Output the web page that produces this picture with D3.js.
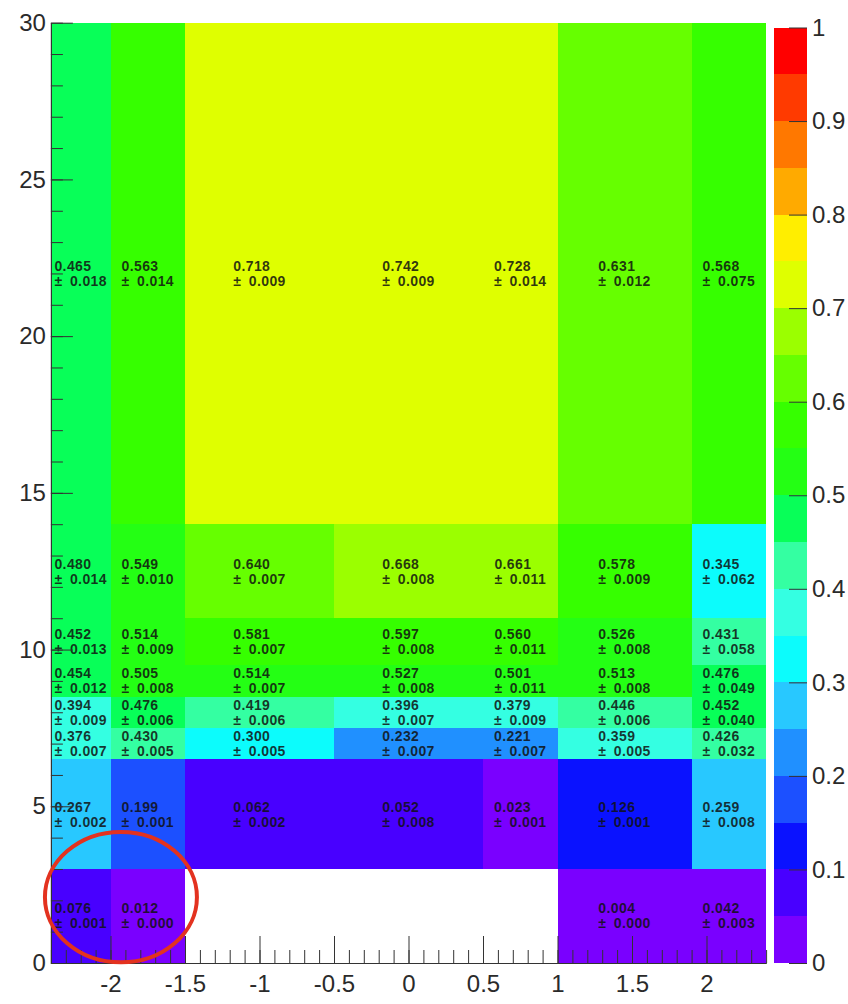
<!DOCTYPE html>
<html>
<head>
<meta charset="utf-8">
<script src="https://cdn.jsdelivr.net/npm/d3@7"></script>
<style>
  html, body { margin: 0; padding: 0; background: #fff; }
  svg { display: block; font-family: "Liberation Sans", Arial, Helvetica, sans-serif; }
</style>
</head>
<body>
<svg id="chart" width="848" height="1004"></svg>
<script>
// Bin edges of the 2D histogram (x: eta-like, y: pT-like)
const xEdges = [-2.4, -2.0, -1.5, -0.5, 0.5, 1.0, 1.9, 2.4];
const yEdges = [0, 3, 6.5, 7.5, 8.5, 9.5, 11, 14, 30];

// Cell contents, one array per y-bin (bottom to top), one entry per x-bin; null = empty bin
const values = [
  [0.076, 0.012, null, null, null, 0.004, 0.042],
  [0.267, 0.199, 0.062, 0.052, 0.023, 0.126, 0.259],
  [0.376, 0.430, 0.300, 0.232, 0.221, 0.359, 0.426],
  [0.394, 0.476, 0.419, 0.396, 0.379, 0.446, 0.452],
  [0.454, 0.505, 0.514, 0.527, 0.501, 0.513, 0.476],
  [0.452, 0.514, 0.581, 0.597, 0.560, 0.526, 0.431],
  [0.480, 0.549, 0.640, 0.668, 0.661, 0.578, 0.345],
  [0.465, 0.563, 0.718, 0.742, 0.728, 0.631, 0.568]
];
const errors = [
  [0.001, 0.000, null, null, null, 0.000, 0.003],
  [0.002, 0.001, 0.002, 0.008, 0.001, 0.001, 0.008],
  [0.007, 0.005, 0.005, 0.007, 0.007, 0.005, 0.032],
  [0.009, 0.006, 0.006, 0.007, 0.009, 0.006, 0.040],
  [0.012, 0.008, 0.007, 0.008, 0.011, 0.008, 0.049],
  [0.013, 0.009, 0.007, 0.008, 0.011, 0.008, 0.058],
  [0.014, 0.010, 0.007, 0.008, 0.011, 0.009, 0.062],
  [0.018, 0.014, 0.009, 0.009, 0.014, 0.012, 0.075]
];

// Axis ticks
const xMajorTicks = [-2, -1.5, -1, -0.5, 0, 0.5, 1, 1.5, 2];
const xMinorTicks = d3.range(-24, 25).map(i => i / 10);
const yMajorTicks = [0, 5, 10, 15, 20, 25, 30];
const yMinorTicks = d3.range(0, 31);
const zTicks = [0, 0.1, 0.2, 0.3, 0.4, 0.5, 0.6, 0.7, 0.8, 0.9, 1];

// 20-step rainbow palette, violet (0) to red (1)
const palette = [
  "#7a00ff", "#4800ff", "#0a12ff", "#1c50ff", "#2090ff",
  "#28c8ff", "#0cfcfc", "#34ffe2", "#34ffa2", "#08ff58",
  "#24ff14", "#36ff00", "#66ff00", "#9bff00", "#dfff00",
  "#ffee00", "#ffaa00", "#ff7800", "#ff3a00", "#ff0000"
];

// Highlight ellipse (data units)
const highlight = { cx: -1.93, cy: 2.1, rx: 0.51, ry: 2.08 };

const svg = d3.select("#chart");
const x = d3.scaleLinear().domain([-2.4, 2.4]).range([50.9, 766.1]);
const y = d3.scaleLinear().domain([0, 30]).range([963, 22.7]);
const color = d3.scaleQuantize().domain([0, 1]).range(palette);
const zy = d3.scaleLinear().domain([0, 1]).range([963, 27.5]);

// Flatten bins
const cells = [];
values.forEach((row, j) => row.forEach((v, i) => {
  if (v === null) return;
  cells.push({ x0: xEdges[i], x1: xEdges[i + 1], y0: yEdges[j], y1: yEdges[j + 1], v, e: errors[j][i] });
}));

// Coloured bins
svg.append("g").selectAll("rect").data(cells).join("rect")
  .attr("x", d => x(d.x0))
  .attr("y", d => y(d.y1))
  .attr("width", d => x(d.x1) - x(d.x0))
  .attr("height", d => y(d.y0) - y(d.y1))
  .attr("fill", d => color(d.v))
  .attr("shape-rendering", "crispEdges");

// Bin contents: value and error, left-aligned block centred in the bin
const fmt = d3.format(".3f");
const labels = svg.append("g")
  .attr("font-size", 14)
  .attr("font-weight", "bold")
  .attr("letter-spacing", 0.4)
  .attr("fill", "#111")
  .attr("fill-opacity", 0.85)
  .selectAll("text").data(cells).join("text");
labels.each(function (d) {
  const t = d3.select(this);
  const cx = (x(d.x0) + x(d.x1)) / 2;
  const cy = (y(d.y0) + y(d.y1)) / 2;
  const l1 = t.append("tspan").attr("y", cy - 7.5).attr("dy", "0.35em").text(fmt(d.v));
  const l2 = t.append("tspan").attr("y", cy + 7.5).attr("dy", "0.35em").text("\u00b1\u2002" + fmt(d.e));
  const w = Math.max(l1.node().getComputedTextLength(), l2.node().getComputedTextLength());
  l1.attr("x", cx - w / 2);
  l2.attr("x", cx - w / 2);
});

// Axes
const axisColor = "#333";
function styleAxis(g) {
  g.selectAll("line").attr("stroke", axisColor);
  g.selectAll("path").attr("stroke", axisColor);
  g.selectAll("text").attr("fill", "#2a2a2a").attr("font-size", 24)
    .attr("font-family", "'Liberation Sans', Arial, Helvetica, sans-serif");
}

svg.append("g").attr("transform", `translate(0,${y(0)})`)
  .call(d3.axisBottom(x).tickValues(xMinorTicks).tickSize(-13).tickSizeOuter(0).tickFormat(""))
  .call(styleAxis);
svg.append("g").attr("transform", `translate(0,${y(0)})`)
  .call(d3.axisBottom(x).tickValues(xMajorTicks).tickSize(-27).tickSizeOuter(0)
    .tickPadding(12).tickFormat(d => String(d)))
  .call(styleAxis);

svg.append("g").attr("transform", `translate(${x(-2.4)},0)`)
  .call(d3.axisLeft(y).tickValues(yMinorTicks).tickSize(-12).tickSizeOuter(0).tickFormat(""))
  .call(styleAxis);
svg.append("g").attr("transform", `translate(${x(-2.4)},0)`)
  .call(d3.axisLeft(y).tickValues(yMajorTicks).tickSize(-22).tickSizeOuter(0)
    .tickPadding(5).tickFormat(d => String(d)))
  .call(styleAxis);

// Colour scale bar
const zx0 = 774, zx1 = 807;
svg.append("g").selectAll("rect").data(palette).join("rect")
  .attr("x", zx0)
  .attr("width", zx1 - zx0)
  .attr("y", c => zy(color.invertExtent(c)[1]))
  .attr("height", c => zy(color.invertExtent(c)[0]) - zy(color.invertExtent(c)[1]))
  .attr("fill", c => c)
  .attr("shape-rendering", "crispEdges");

svg.append("g").attr("transform", `translate(${zx1},0)`)
  .call(d3.axisRight(zy).tickValues(zTicks).tickSize(-18).tickSizeOuter(0)
    .tickPadding(5).tickFormat(d => String(d)))
  .call(styleAxis)
  .call(g => g.select(".domain").remove());

// Highlight ring around the low-pT forward bins
svg.append("ellipse")
  .attr("cx", x(highlight.cx))
  .attr("cy", y(highlight.cy))
  .attr("rx", x(highlight.cx + highlight.rx) - x(highlight.cx))
  .attr("ry", y(highlight.cy - highlight.ry) - y(highlight.cy))
  .attr("fill", "none")
  .attr("stroke", "#e3321f")
  .attr("stroke-width", 4);
</script>
</body>
</html>
